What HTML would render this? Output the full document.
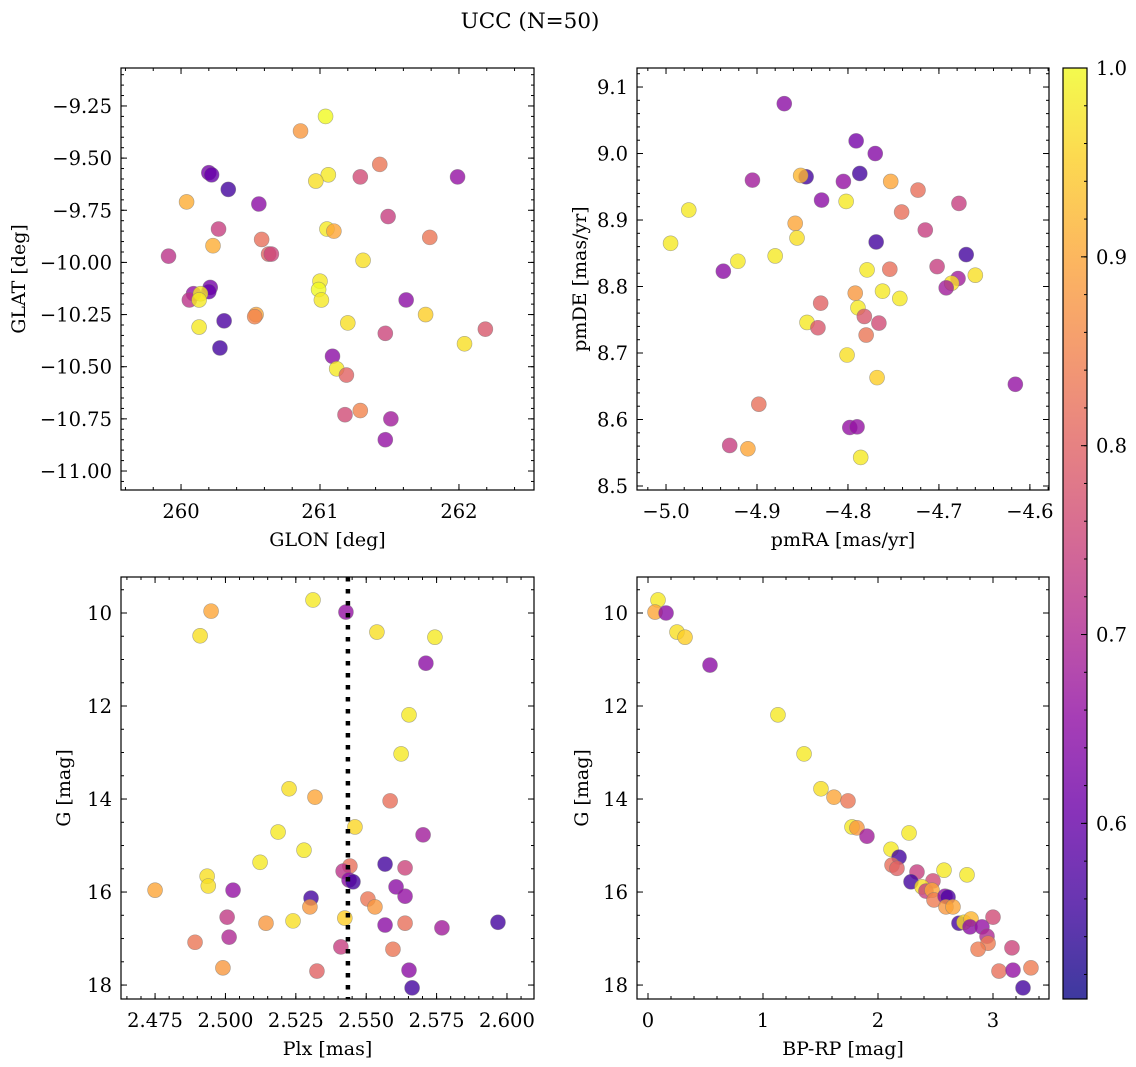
<!DOCTYPE html>
<html><head><meta charset="utf-8">
<style>
html,body{margin:0;padding:0;background:#fff;}
svg{display:block;font-family:"DejaVu Serif","Liberation Serif",serif;}
</style></head>
<body>
<svg id="fig" width="1136" height="1067" viewBox="0 0 1136 1067" xmlns="http://www.w3.org/2000/svg">
<text x="530" y="28" text-anchor="middle" font-size="21.5">UCC (N=50)</text>
</svg>
<script>
// ---- Panel 1: GLON / GLAT ----
const p1Lon=[261.04,260.86,260.20,260.22,260.34,261.43,261.29,261.06,260.97,261.99,260.04,260.56,260.27,261.05,261.10,261.49,261.79,260.58,260.23,259.91,260.63,260.65,261.31,261.00,260.99,260.21,260.20,260.09,260.06,260.14,260.13,261.01,261.62,260.54,260.53,261.76,260.31,260.13,261.20,262.19,260.28,261.47,262.04,261.09,261.12,261.19,261.29,261.18,261.51,261.47];
const p1Lat=[-9.30,-9.37,-9.57,-9.58,-9.65,-9.53,-9.59,-9.58,-9.61,-9.59,-9.71,-9.72,-9.84,-9.84,-9.85,-9.78,-9.88,-9.89,-9.92,-9.97,-9.96,-9.96,-9.99,-10.09,-10.13,-10.12,-10.14,-10.15,-10.18,-10.15,-10.18,-10.18,-10.18,-10.25,-10.26,-10.25,-10.28,-10.31,-10.29,-10.32,-10.41,-10.34,-10.39,-10.45,-10.51,-10.54,-10.71,-10.73,-10.75,-10.85];
const p1Prob=[1.0,.88,.62,.60,.56,.83,.76,.98,.97,.66,.91,.65,.74,.98,.9,.74,.83,.82,.91,.72,.8,.75,.97,.98,1.0,.62,.6,.66,.72,.98,.98,.98,.65,.9,.85,.95,.57,.98,.97,.78,.56,.75,.97,.65,.98,.8,.85,.76,.68,.66];
const p1XTicks=[260,261,262];
const p1YTicks=[-9.25,-9.5,-9.75,-10,-10.25,-10.5,-10.75,-11];
// ---- Panel 2: pmRA / pmDE ----
const p2RA=[-4.870,-4.791,-4.770,-4.846,-4.787,-4.905,-4.852,-4.805,-4.753,-4.723,-4.975,-4.829,-4.802,-4.678,-4.741,-4.858,-4.715,-4.856,-4.769,-4.995,-4.670,-4.880,-4.921,-4.702,-4.754,-4.937,-4.779,-4.660,-4.679,-4.686,-4.692,-4.762,-4.792,-4.743,-4.830,-4.789,-4.782,-4.845,-4.766,-4.833,-4.780,-4.801,-4.768,-4.616,-4.898,-4.798,-4.790,-4.930,-4.910,-4.786];
const p2DE=[9.075,9.019,9.000,8.965,8.97,8.96,8.967,8.958,8.958,8.945,8.915,8.93,8.928,8.925,8.912,8.895,8.885,8.873,8.867,8.865,8.848,8.846,8.838,8.83,8.826,8.823,8.825,8.817,8.812,8.805,8.798,8.793,8.79,8.782,8.775,8.768,8.755,8.746,8.745,8.738,8.727,8.697,8.663,8.653,8.623,8.588,8.589,8.561,8.556,8.543];
const p2Prob=[0.65,0.62,0.64,0.56,0.56,0.68,0.92,0.66,0.9,0.82,0.98,0.65,0.98,0.74,0.82,0.9,0.74,0.97,0.56,0.98,0.56,0.98,0.98,0.74,0.82,0.65,0.98,0.97,0.68,0.97,0.68,0.98,0.88,0.98,0.8,0.98,0.78,0.98,0.76,0.78,0.83,0.97,0.95,0.66,0.82,0.66,0.66,0.74,0.9,0.98];
const p2XTicks=[-5.0,-4.9,-4.8,-4.7,-4.6];
const p2YTicks=[8.5,8.6,8.7,8.8,8.9,9.0,9.1];
// ---- Panel 3: Plx / G ----
const p3Plx=[2.5744,2.5538,2.5311,2.5428,2.4949,2.4910,2.5712,2.5652,2.5624,2.5226,2.5318,2.5585,2.5460,2.5187,2.5702,2.5279,2.5567,2.5638,2.5123,2.4935,2.4939,2.5027,2.4750,2.5606,2.5638,2.5304,2.5506,2.5531,2.5300,2.5006,2.5144,2.5240,2.5424,2.5567,2.5638,2.5968,2.5769,2.5013,2.4892,2.5410,2.5595,2.4991,2.5325,2.5652,2.5663,2.5442,2.5418,2.5439,2.5453];
const p3G=[10.52,10.41,9.72,9.98,9.96,10.49,11.08,12.19,13.03,13.78,13.96,14.04,14.60,14.71,14.77,15.10,15.40,15.48,15.36,15.66,15.87,15.96,15.96,15.89,16.09,16.13,16.15,16.32,16.32,16.54,16.67,16.62,16.56,16.71,16.67,16.65,16.77,16.97,17.08,17.18,17.23,17.63,17.70,17.68,18.06,15.44,15.55,15.74,15.78];
const p3Prob=[.98,.97,.98,.66,.9,.97,.65,.98,.98,.97,.9,.82,.96,.98,.68,.98,.56,.75,.98,.97,.97,.66,.9,.65,.66,.56,.83,.88,.88,.73,.88,.97,.95,.65,.82,.56,.68,.7,.83,.74,.83,.88,.8,.65,.56,.82,.72,.65,.56];
const p3XTicks=[2.475,2.5,2.525,2.55,2.575,2.6];
const p3YTicks=[10,12,14,16,18];
const p3PlxMedian=2.5435;
// ---- Panel 4: BP-RP / G ----
const p4Col=[0.087,0.061,0.157,0.252,0.322,0.539,1.130,1.357,1.504,1.617,1.739,1.774,1.817,1.904,2.270,2.113,2.183,2.122,2.165,2.339,2.574,2.774,2.287,2.478,2.383,2.417,2.470,2.487,2.583,2.609,2.591,2.652,3.000,2.704,2.748,2.809,2.800,2.904,2.948,2.957,2.870,3.165,3.052,3.174,3.330,3.261];
const p4G=[9.72,9.98,10.00,10.41,10.52,11.12,12.19,13.03,13.78,13.96,14.04,14.60,14.62,14.80,14.73,15.08,15.25,15.42,15.49,15.57,15.53,15.63,15.78,15.76,15.89,15.98,15.96,16.17,16.09,16.11,16.32,16.32,16.54,16.67,16.65,16.58,16.75,16.75,16.95,17.10,17.23,17.20,17.70,17.68,17.63,18.06];
const p4Prob=[.98,.9,.65,.97,.95,.65,.98,.98,.97,.9,.83,.98,.88,.68,.98,.98,.56,.82,.8,.74,.98,.98,.56,.76,.97,.74,.9,.84,.65,.57,.88,.9,.76,.56,.97,.92,.65,.66,.7,.84,.84,.75,.82,.66,.84,.56];
const p4XTicks=[0,1,2,3];
const p4YTicks=[10,12,14,16,18];
// ---- colorbar ----
const cbTicks=[0.6,0.7,0.8,0.9,1.0];
const cbMin=0.507, cbMax=1.0;

const NS="http://www.w3.org/2000/svg";
const svg=document.getElementById('fig');
function mk(tag,attrs,parent){const e=document.createElementNS(NS,tag);for(const k in attrs)e.setAttribute(k,attrs[k]);(parent||svg).appendChild(e);return e;}
const stops=[[13,8,135],[65,4,157],[106,0,168],[143,13,164],[177,42,144],[204,71,120],[225,100,98],[242,132,75],[252,166,54],[252,206,37],[240,249,33]];
function plasma(t){t=Math.max(0,Math.min(1,t));const f=t*10,i=Math.min(9,Math.floor(f)),r=f-i;const a=stops[i],b=stops[i+1];return 'rgb('+[0,1,2].map(k=>Math.round(a[k]+(b[k]-a[k])*r)).join(',')+')';}
function pcol(p){return plasma((p-cbMin)/(cbMax-cbMin));}
function fmtNum(v,d){const s=Math.abs(v).toFixed(d);return (v<0?'\u2212':'')+s;}
const TF=19.5, LF=19;

function panel(o){
  const g=mk('g',{});
  
  
  const L=o.box[0],T=o.box[1],R=o.box[2],B=o.box[3];
  const sx=v=>L+(v-o.xd[0])/(o.xd[1]-o.xd[0])*(R-L);
  const sy=v=>T+(v-o.yd[0])/(o.yd[1]-o.yd[0])*(B-T);
  const pg=mk('g',{},g);
  
  
  for(let i=0;i<o.xs.length;i++){
    const c=mk('circle',{cx:sx(o.xs[i]),cy:sy(o.ys[i]),r:7.5,fill:pcol(o.cs[i]),'fill-opacity':0.8,stroke:'#777','stroke-opacity':0.6,'stroke-width':0.6},pg);
    
    
  }
  if(o.vline!==undefined){
    const l=mk('line',{x1:sx(o.vline),x2:sx(o.vline),y1:T,y2:B,stroke:'#000','stroke-width':4.5,'stroke-dasharray':'4.5,7.5'},g);
    
    
  }
  const fr=mk('rect',{x:L,y:T,width:R-L,height:B-T,fill:'none',stroke:'#000','stroke-width':1.2},g);
  
  
  const tk=mk('g',{stroke:'#000','stroke-width':1},g);
  const lo=Math.min(...o.xd),hi=Math.max(...o.xd);
  for(let v=Math.ceil(lo/o.xmin)*o.xmin;v<=hi;v+=o.xmin){const x=sx(v);mk('line',{x1:x,x2:x,y1:B,y2:B-3},tk);mk('line',{x1:x,x2:x,y1:T,y2:T+3},tk);}
  const ylo=Math.min(...o.yd),yhi=Math.max(...o.yd);
  for(let v=Math.ceil(ylo/o.ymin)*o.ymin;v<=yhi;v+=o.ymin){const y=sy(v);mk('line',{x1:L,x2:L+3,y1:y,y2:y},tk);mk('line',{x1:R,x2:R-3,y1:y,y2:y},tk);}
  o.xt.forEach(v=>{const x=sx(v);mk('line',{x1:x,x2:x,y1:B,y2:B-6},tk);mk('line',{x1:x,x2:x,y1:T,y2:T+6},tk);
    const t=mk('text',{x:x,y:B+28,'text-anchor':'middle','font-size':TF},g);t.textContent=fmtNum(v,o.xdig);
    });
  o.yt.forEach(v=>{const y=sy(v);mk('line',{x1:L,x2:L+6,y1:y,y2:y},tk);mk('line',{x1:R,x2:R-6,y1:y,y2:y},tk);
    const t=mk('text',{x:L-9,y:y+7,'text-anchor':'end','font-size':TF},g);t.textContent=fmtNum(v,o.ydig);
    });
  const xl=mk('text',{x:(L+R)/2,y:B+56,'text-anchor':'middle','font-size':LF},g);xl.textContent=o.xlab;
  
  const yl=mk('text',{x:0,y:0,'text-anchor':'middle','font-size':LF,transform:'translate('+o.ylx+','+((T+B)/2)+') rotate(-90)'},g);yl.textContent=o.ylab;
  
}
panel({name:'glon-glat-panel',box:[121,68,534,490],xd:[259.568,262.54],yd:[-9.068,-11.091],xs:p1Lon,ys:p1Lat,cs:p1Prob,xt:p1XTicks,yt:p1YTicks,xmin:0.2,ymin:0.05,xdig:0,ydig:2,xlab:'GLON [deg]',ylab:'GLAT [deg]',ylx:25});
panel({name:'pm-panel',box:[637,68,1049,490],xd:[-5.0319,-4.579],yd:[9.1286,8.494],xs:p2RA,ys:p2DE,cs:p2Prob,xt:p2XTicks,yt:p2YTicks,xmin:0.02,ymin:0.02,xdig:1,ydig:1,xlab:'pmRA [mas/yr]',ylab:'pmDE [mas/yr]',ylx:586});
panel({name:'plx-g-panel',box:[121,577,534,999],xd:[2.4629,2.6096],yd:[9.226,18.30],xs:p3Plx,ys:p3G,cs:p3Prob,xt:p3XTicks,yt:p3YTicks,xmin:0.005,ymin:0.5,xdig:3,ydig:0,xlab:'Plx [mas]',ylab:'G [mag]',ylx:70,vline:p3PlxMedian});
panel({name:'cmd-panel',box:[637,577,1049,999],xd:[-0.0957,3.487],yd:[9.226,18.30],xs:p4Col,ys:p4G,cs:p4Prob,xt:p4XTicks,yt:p4YTicks,xmin:0.2,ymin:0.5,xdig:0,ydig:0,xlab:'BP-RP [mag]',ylab:'G [mag]',ylx:588});

(function(){
  const L=1063,R=1087,T=68,B=999;
  const cg=mk('g',{});
  
  
  const defs=mk('defs',{},cg);
  const lg=mk('linearGradient',{id:'cbg',x1:0,y1:1,x2:0,y2:0},defs);
  for(let i=0;i<=20;i++){mk('stop',{offset:(i/20),'stop-color':plasma(i/20)},lg);}
  mk('rect',{x:L,y:T,width:R-L,height:B-T,fill:'url(#cbg)','fill-opacity':0.8},cg);
  mk('rect',{x:L,y:T,width:R-L,height:B-T,fill:'none',stroke:'#000','stroke-width':1.2},cg);
  const sy=v=>B-(v-cbMin)/(cbMax-cbMin)*(B-T);
  for(let v=0.52;v<=1.0001;v+=0.02){const y=sy(v);mk('line',{x1:R,x2:R-3,y1:y,y2:y,stroke:'#000'},cg);}
  cbTicks.forEach(v=>{const y=sy(v);mk('line',{x1:R,x2:R-6,y1:y,y2:y,stroke:'#000'},cg);
    const t=mk('text',{x:R+9,y:y+7,'font-size':TF},cg);t.textContent=v.toFixed(1);
    });
})();
</script>
</body></html>
